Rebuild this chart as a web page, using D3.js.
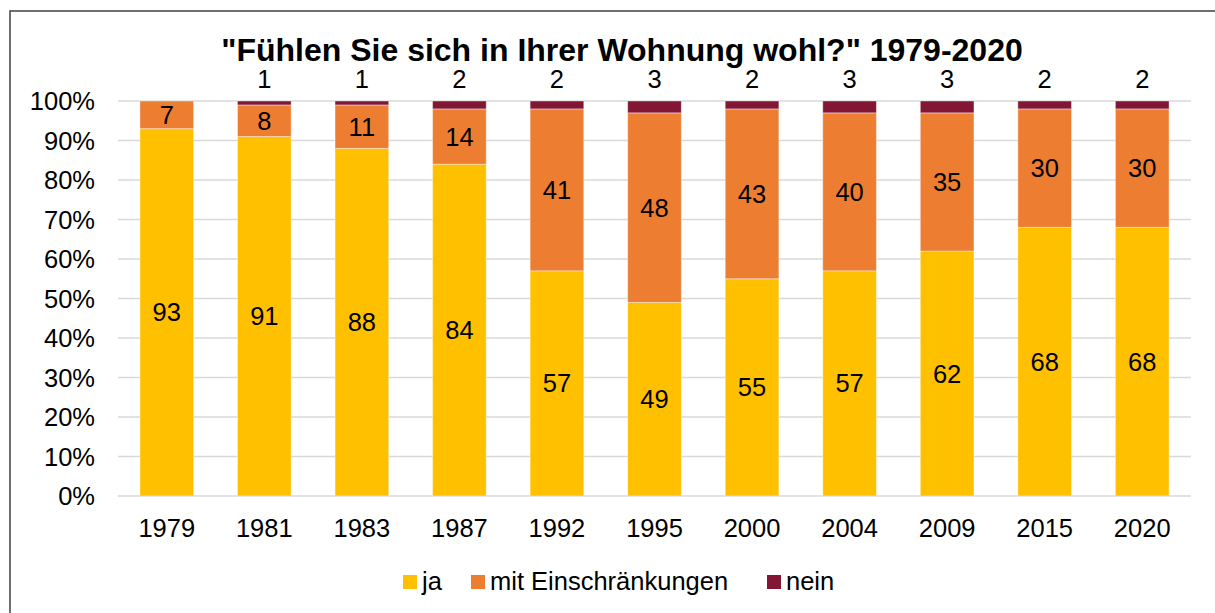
<!DOCTYPE html>
<html>
<head>
<meta charset="utf-8">
<script src="https://cdn.jsdelivr.net/npm/d3@7"></script>
<style>
body { margin: 0; background: #fff; }
text { font-family: "Liberation Sans", Arial, sans-serif; }
</style>
</head>
<body>
<script>
var width = 1215, height = 613;

// data
var years = ['1979', '1981', '1983', '1987', '1992', '1995', '2000', '2004', '2009', '2015', '2020'];
var ja = [93, 91, 88, 84, 57, 49, 55, 57, 62, 68, 68];
var mit = [7, 8, 11, 14, 41, 48, 43, 40, 35, 30, 30];
var nein = [0, 1, 1, 2, 2, 3, 2, 3, 3, 2, 2];
var seriesNames = ['ja', 'mit Einschränkungen', 'nein'];
var colors = ['#FFC000', '#ED7D31', '#821634'];
var yTicks = [0, 10, 20, 30, 40, 50, 60, 70, 80, 90, 100];

var fs = 25.5;

var svg = d3.select('body').append('svg').attr('width', width).attr('height', height);

// frame
svg.append('rect')
 .attr('x', 10).attr('y', 11)
 .attr('width', 1220).attr('height', 620)
 .attr('fill', 'none').attr('stroke', '#404040').attr('stroke-width', 1.5);

var x = d3.scaleBand().domain(years).range([118, 1191]).paddingInner(0.45).paddingOuter(0.225);
var y = d3.scaleLinear().domain([0, 100]).range([496, 101]);

// gridlines
svg.append('g').selectAll('line')
 .data(yTicks)
 .join('line')
 .attr('x1', 118).attr('x2', 1191)
 .attr('y1', function(d) { return y(d); })
 .attr('y2', function(d) { return y(d); })
 .attr('stroke', '#d9d9d9').attr('stroke-width', 1.5);

// y axis labels
svg.append('g').selectAll('text')
 .data(yTicks)
 .join('text')
 .attr('x', 95)
 .attr('y', function(d) { return y(d) + 9; })
 .attr('text-anchor', 'end')
 .attr('font-size', fs)
 .text(function(d) { return d + '%'; });

// stack
var rows = years.map(function(yr, i) {
 return {year: yr, ja: ja[i], mit: mit[i], nein: nein[i]};
});
var stack = d3.stack().keys(['ja', 'mit', 'nein'])(rows);

var layers = svg.append('g').selectAll('g')
 .data(stack)
 .join('g')
 .attr('fill', function(d, i) { return colors[i]; });

layers.selectAll('rect')
 .data(function(d) { return d; })
 .join('rect')
 .attr('x', function(d) { return x(d.data.year); })
 .attr('width', x.bandwidth())
 .attr('y', function(d) { return y(d[1]); })
 .attr('height', function(d) { return y(d[0]) - y(d[1]); })
 .attr('stroke', '#fff').attr('stroke-opacity', 0.4).attr('stroke-width', 1);

// labels inside (ja, mit)
[0, 1].forEach(function(k) {
 svg.append('g').selectAll('text')
 .data(stack[k])
 .join('text')
 .attr('x', function(d) { return x(d.data.year) + x.bandwidth() / 2; })
 .attr('y', function(d) { return (y(d[0]) + y(d[1])) / 2 + 9; })
 .attr('text-anchor', 'middle')
 .attr('font-size', fs)
 .attr('fill', '#000')
 .text(function(d) { return d[1] - d[0]; });
});

// nein labels above bars
svg.append('g').selectAll('text')
 .data(stack[2].filter(function(d) { return d[1] - d[0] > 0; }))
 .join('text')
 .attr('x', function(d) { return x(d.data.year) + x.bandwidth() / 2; })
 .attr('y', function(d) { return y(d[1]) - 13; })
 .attr('text-anchor', 'middle')
 .attr('font-size', fs)
 .text(function(d) { return d[1] - d[0]; });

// x labels
svg.append('g').selectAll('text')
 .data(years)
 .join('text')
 .attr('x', function(d) { return x(d) + x.bandwidth() / 2; })
 .attr('y', 537)
 .attr('text-anchor', 'middle')
 .attr('font-size', fs)
 .text(function(d) { return d; });

// title
svg.append('text')
 .attr('x', 622).attr('y', 61)
 .attr('text-anchor', 'middle')
 .attr('font-size', 32).attr('font-weight', 'bold')
 .text('"Fühlen Sie sich in Ihrer Wohnung wohl?" 1979-2020');

// legend
var legendX = [403, 471, 767];
var leg = svg.append('g').selectAll('g')
 .data(seriesNames)
 .join('g')
 .attr('transform', function(d, i) { return 'translate(' + legendX[i] + ',575)'; });
leg.append('rect').attr('width', 14).attr('height', 14)
 .attr('fill', function(d, i) { return colors[i]; });
leg.append('text').attr('x', 19).attr('y', 15).attr('font-size', fs).text(function(d) { return d; });

console.log('ready..');
</script>
</body>
</html>
